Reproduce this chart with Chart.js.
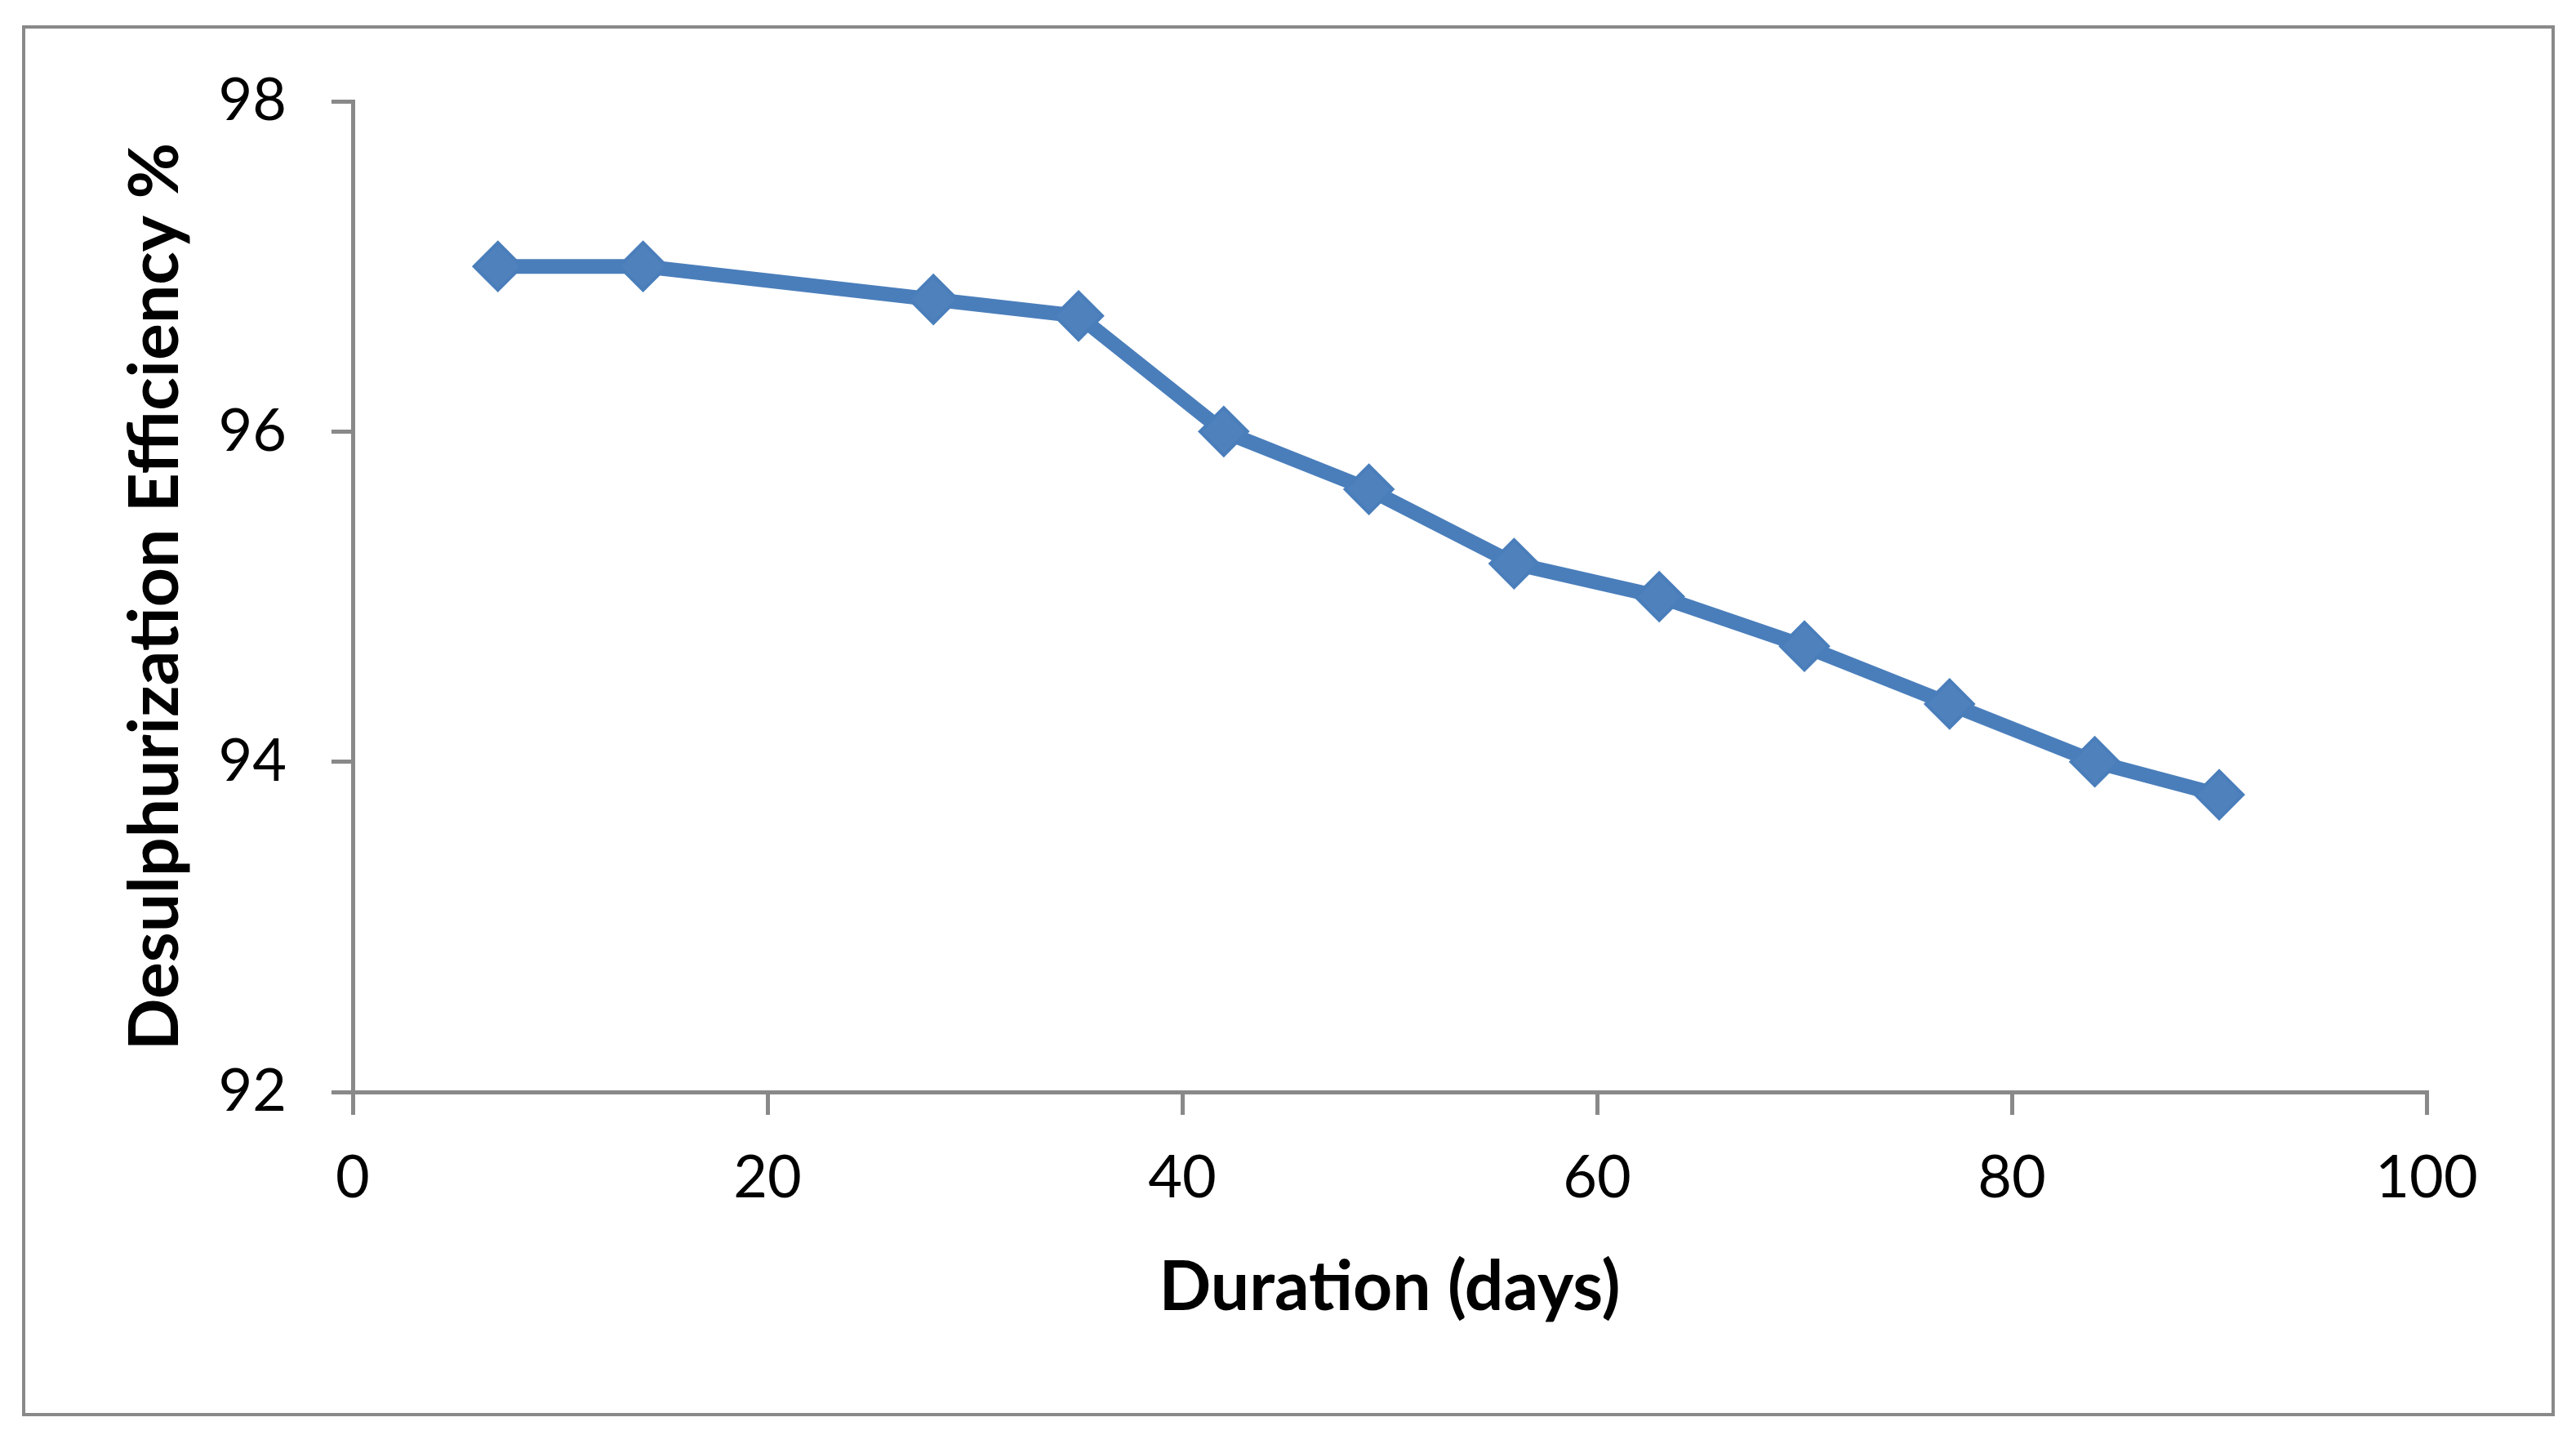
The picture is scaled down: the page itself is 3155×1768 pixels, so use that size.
<!DOCTYPE html>
<html>
<head>
<meta charset="utf-8">
<script src="https://cdn.jsdelivr.net/npm/chart.js@4/dist/chart.umd.min.js"></script>
<style>
  html, body { margin: 0; padding: 0; background: #ffffff; }
  #wrap { width: 3155px; height: 1768px; position: relative; }
</style>
</head>
<body>
<div id="wrap"><canvas id="c" width="3155" height="1768"></canvas></div>
<script>
// ---- data ----
const durationDays = [7, 14, 28, 35, 42, 49, 56, 63, 70, 77, 84, 90];
const efficiencyPct = [97.0, 97.0, 96.8, 96.7, 96.0, 95.65, 95.2, 95.0, 94.7, 94.35, 94.0, 93.8];
const xTickValues = [0, 20, 40, 60, 80, 100];
const yTickValues = [92, 94, 96, 98];
const xTitle = 'Duration (days)';
const yTitle = 'Desulphurization Efficiency %';

const points = durationDays.map((d, i) => ({ x: d, y: efficiencyPct[i] }));
const axisGray = '#898989';

const frame = {
  id: 'frame',
  beforeDraw(chart) {
    const ctx = chart.ctx;
    ctx.save();
    ctx.fillStyle = '#ffffff';
    ctx.fillRect(0, 0, chart.width, chart.height);
    ctx.strokeStyle = axisGray;
    ctx.lineWidth = 4;
    ctx.strokeRect(29, 33, 3127 - 29, 1732 - 33);
    ctx.restore();
  }
};

new Chart(document.getElementById('c'), {
  type: 'scatter',
  data: {
    datasets: [{
      data: points,
      showLine: true,
      borderColor: '#4A7EBB',
      borderWidth: 18,
      backgroundColor: '#4F81BD',
      pointStyle: 'rectRot',
      pointRadius: 29,
      pointHoverRadius: 29,
      pointBorderWidth: 4,
      pointBorderColor: '#4A7EBB',
      pointBackgroundColor: '#4F81BD',
      tension: 0,
      clip: false
    }]
  },
  options: {
    responsive: false,
    animation: false,
    devicePixelRatio: 1,
    events: [],
    layout: { padding: { left: 0, top: 124, right: 183, bottom: 0 } },
    plugins: { legend: { display: false }, tooltip: { enabled: false } },
    scales: {
      x: {
        type: 'linear',
        min: xTickValues[0],
        max: xTickValues[xTickValues.length - 1],
        afterBuildTicks(scale) { scale.ticks = xTickValues.map(v => ({ value: v })); },
        afterFit(scale) { scale.height = 431; },
        border: { display: true, color: axisGray, width: 5 },
        grid: { drawOnChartArea: false, drawTicks: true, tickLength: 28, color: axisGray, lineWidth: 5 },
        ticks: {
          color: '#000000',
          padding: 35,
          maxRotation: 0,
          font: { family: 'Lato, "Open Sans", sans-serif', size: 72 }
        },
        title: {
          display: true,
          text: xTitle,
          color: '#000000',
          padding: { top: 0, bottom: 141 },
          font: { family: 'Lato, "Open Sans", sans-serif', size: 84, weight: 'bold' }
        }
      },
      y: {
        type: 'linear',
        min: yTickValues[0],
        max: yTickValues[yTickValues.length - 1],
        afterBuildTicks(scale) { scale.ticks = yTickValues.map(v => ({ value: v })); },
        afterFit(scale) { scale.width = 432; },
        border: { display: true, color: axisGray, width: 5 },
        grid: { drawOnChartArea: false, drawTicks: true, tickLength: 26, color: axisGray, lineWidth: 5 },
        ticks: {
          color: '#000000',
          padding: 55,
          font: { family: 'Lato, "Open Sans", sans-serif', size: 72 }
        },
        title: {
          display: true,
          text: yTitle,
          color: '#000000',
          padding: { top: 141, bottom: 0 },
          font: { family: 'Lato, "Open Sans", sans-serif', size: 84, weight: 'bold' }
        }
      }
    }
  },
  plugins: [frame]
});
</script>
</body>
</html>
